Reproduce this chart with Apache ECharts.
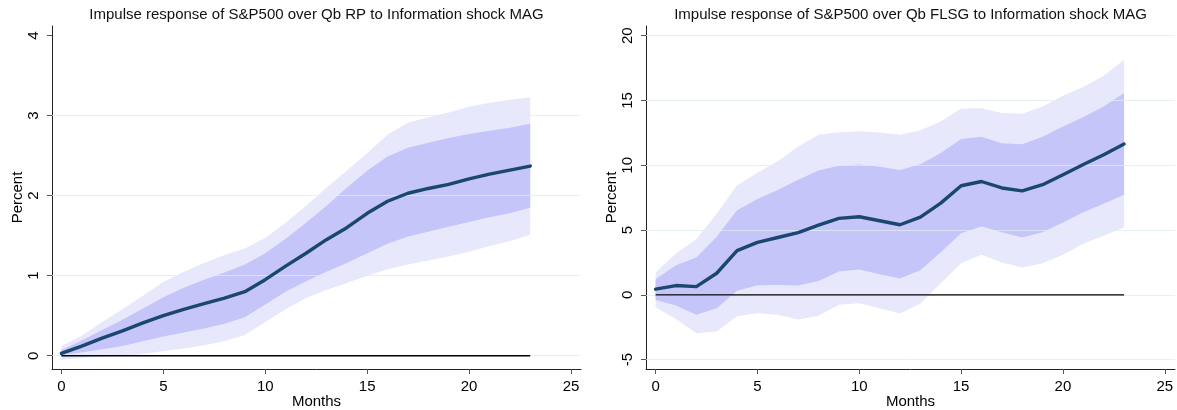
<!DOCTYPE html>
<html>
<head>
<meta charset="utf-8">
<script src="https://cdn.jsdelivr.net/npm/echarts@6/dist/echarts.min.js"></script>
<style>
  html, body { margin: 0; padding: 0; background: #ffffff; }
  #chart { width: 1177px; height: 410px; }
</style>
</head>
<body>
<div id="chart"></div>
<script>
// Horizon (months after the shock)
const months = [0,1,2,3,4,5,6,7,8,9,10,11,12,13,14,15,16,17,18,19,20,21,22,23];
const xTicks = [0, 5, 10, 15, 20, 25];

// S&P500 over Qb RP: median response and two credible bands
const rpMedian  = [0.03,0.12,0.22,0.31,0.41,0.50,0.58,0.65,0.72,0.80,0.95,1.12,1.28,1.45,1.60,1.78,1.93,2.03,2.09,2.14,2.21,2.27,2.32,2.37];
const rpInnerUp = [0.07,0.19,0.32,0.45,0.59,0.73,0.85,0.95,1.04,1.14,1.28,1.46,1.66,1.87,2.10,2.31,2.49,2.60,2.66,2.72,2.77,2.81,2.85,2.90];
const rpInnerLo = [0.01,0.04,0.08,0.12,0.18,0.24,0.29,0.34,0.40,0.48,0.64,0.80,0.93,1.05,1.16,1.28,1.40,1.49,1.55,1.61,1.67,1.73,1.78,1.85];
const rpOuterUp = [0.12,0.25,0.42,0.58,0.75,0.92,1.05,1.16,1.26,1.34,1.47,1.66,1.87,2.10,2.31,2.53,2.76,2.91,2.98,3.04,3.11,3.16,3.20,3.23];
const rpOuterLo = [-0.05,-0.03,-0.01,0.00,0.02,0.06,0.09,0.13,0.18,0.26,0.42,0.58,0.72,0.82,0.91,1.00,1.08,1.14,1.19,1.24,1.30,1.37,1.43,1.51];
const rpYTicks = [0, 1, 2, 3, 4];
const rpGrid   = [0, 1, 2, 3];

// S&P500 over Qb FLSG: median response and two credible bands
const flsgMedian  = [0.44,0.72,0.64,1.67,3.42,4.05,4.43,4.81,5.38,5.90,6.03,5.72,5.41,6.00,7.08,8.42,8.75,8.25,8.03,8.50,9.27,10.06,10.81,11.64];
const flsgInnerUp = [1.21,2.29,2.89,4.48,6.53,7.39,8.09,8.88,9.60,9.96,10.06,9.89,9.63,10.09,10.94,12.02,12.20,11.71,11.63,12.20,13.00,13.72,14.54,15.57];
const flsgInnerLo = [-0.40,-0.81,-1.54,-1.03,0.32,0.74,0.77,0.72,1.08,1.80,1.95,1.60,1.26,1.90,3.29,4.76,5.28,4.84,4.43,4.84,5.59,6.38,7.03,7.72];
const flsgOuterUp = [1.72,3.19,4.30,6.27,8.47,9.42,10.32,11.45,12.35,12.55,12.63,12.53,12.35,12.71,13.38,14.39,14.41,14.03,13.98,14.54,15.37,16.04,16.91,18.15];
const flsgOuterLo = [-0.95,-1.86,-2.96,-2.83,-1.65,-1.42,-1.54,-1.90,-1.62,-0.77,-0.64,-1.03,-1.44,-0.66,0.90,2.45,3.09,2.50,2.11,2.45,3.09,3.94,4.56,5.20];
const flsgYTicks = [-5, 0, 5, 10, 15, 20];
const flsgGrid   = [-5, 0, 5, 10, 15, 20];

const titles = [
  'Impulse response of S&P500 over Qb RP to Information shock MAG',
  'Impulse response of S&P500 over Qb FLSG to Information shock MAG'
];

const FONT = '"Liberation Sans", Arial, Helvetica, sans-serif';
const NAVY = '#1a476f';
const OUTER = '#e8e8fc';
const INNER = '#c5c5fa';
const GRIDC = 'rgba(222,236,240,0.75)';

const grids = [
  { left: 52, top: 26, width: 529, height: 343, containLabel: false, outerBoundsMode: 'none' },
  { left: 646, top: 26, width: 529, height: 343, containLabel: false, outerBoundsMode: 'none' }
];

function xAxisFor(i, min, max) {
  return {
    type: 'value', gridIndex: i, min: min, max: max,
    name: 'Months', nameLocation: 'middle', nameGap: 25, nameMoveOverlap: false,
    nameTextStyle: { fontFamily: FONT, fontSize: 15, color: '#000', verticalAlign: 'top' },
    axisLine: { show: true, onZero: false, lineStyle: { color: '#222', width: 1 } },
    axisTick: { show: true, customValues: xTicks, length: 5, lineStyle: { color: '#555' } },
    axisLabel: { customValues: xTicks, fontFamily: FONT, fontSize: 15, color: '#000', margin: 10 },
    splitLine: { show: false }
  };
}

function yAxisFor(i, min, max, ticks) {
  return {
    type: 'value', gridIndex: i, min: min, max: max,
    name: 'Percent', nameLocation: 'middle', nameGap: 27,
    nameTextStyle: { fontFamily: FONT, fontSize: 15, color: '#000' },
    axisLine: { show: true, onZero: false, lineStyle: { color: '#222', width: 1 } },
    axisTick: { show: true, customValues: ticks, length: 5, lineStyle: { color: '#555' } },
    axisLabel: { customValues: ticks, rotate: 90, fontFamily: FONT, fontSize: 15, color: '#000', margin: 11 },
    splitLine: { show: false }
  };
}

// Filled band between two curves, placed through the axis scales
function band(axis, lo, up, color, z) {
  return {
    type: 'custom', xAxisIndex: axis, yAxisIndex: axis, z: z, silent: true,
    data: [[months[0], lo[0]]],
    renderItem: function (params, api) {
      const pts = [];
      for (let k = 0; k < months.length; k++) pts.push(api.coord([months[k], up[k]]));
      for (let k = months.length - 1; k >= 0; k--) pts.push(api.coord([months[k], lo[k]]));
      return { type: 'polygon', shape: { points: pts }, style: { fill: color } };
    }
  };
}

// Horizontal reference lines at the y ticks, laid over the bands
function gridLines(axis, values) {
  return {
    type: 'line', xAxisIndex: axis, yAxisIndex: axis, z: 4, silent: true,
    data: [], symbol: 'none',
    markLine: {
      silent: true, symbol: 'none', z: 4, label: { show: false },
      lineStyle: { color: GRIDC, width: 1, type: 'solid' },
      data: values.map(v => ({ yAxis: v }))
    }
  };
}

function zeroLine(axis) {
  return {
    type: 'line', xAxisIndex: axis, yAxisIndex: axis, z: 8, silent: true,
    symbol: 'none', color: '#000', data: [[months[0], 0], [months[months.length - 1], 0]],
    lineStyle: { color: '#000', width: 1.4 }
  };
}

function medianLine(axis, vals) {
  return {
    type: 'line', xAxisIndex: axis, yAxisIndex: axis, z: 9, silent: true,
    symbol: 'none', color: NAVY, data: months.map((m, k) => [m, vals[k]]),
    lineStyle: { color: NAVY, width: 3.4, join: 'round', cap: 'round' }
  };
}

const chart = echarts.init(document.getElementById('chart'), null, { renderer: 'canvas' });
chart.setOption({
  backgroundColor: '#ffffff',
  animation: false,
  textStyle: { fontFamily: FONT },
  grid: grids,
  xAxis: [xAxisFor(0, -0.46, 25.49), xAxisFor(1, -0.47, 25.5)],
  yAxis: [yAxisFor(0, -0.166, 4.12, rpYTicks), yAxisFor(1, -5.72, 20.75, flsgYTicks)],
  graphic: titles.map((t, i) => ({
    type: 'text',
    x: grids[i].left + grids[i].width / 2, y: 15,
    style: { text: t, textAlign: 'center', textVerticalAlign: 'middle',
             font: '15px ' + FONT, fill: '#111' }
  })),
  series: [
    gridLines(0, rpGrid),
    band(0, rpOuterLo, rpOuterUp, OUTER, 2),
    band(0, rpInnerLo, rpInnerUp, INNER, 3),
    zeroLine(0),
    medianLine(0, rpMedian),
    gridLines(1, flsgGrid),
    band(1, flsgOuterLo, flsgOuterUp, OUTER, 2),
    band(1, flsgInnerLo, flsgInnerUp, INNER, 3),
    zeroLine(1),
    medianLine(1, flsgMedian)
  ]
});
</script>
</body>
</html>
